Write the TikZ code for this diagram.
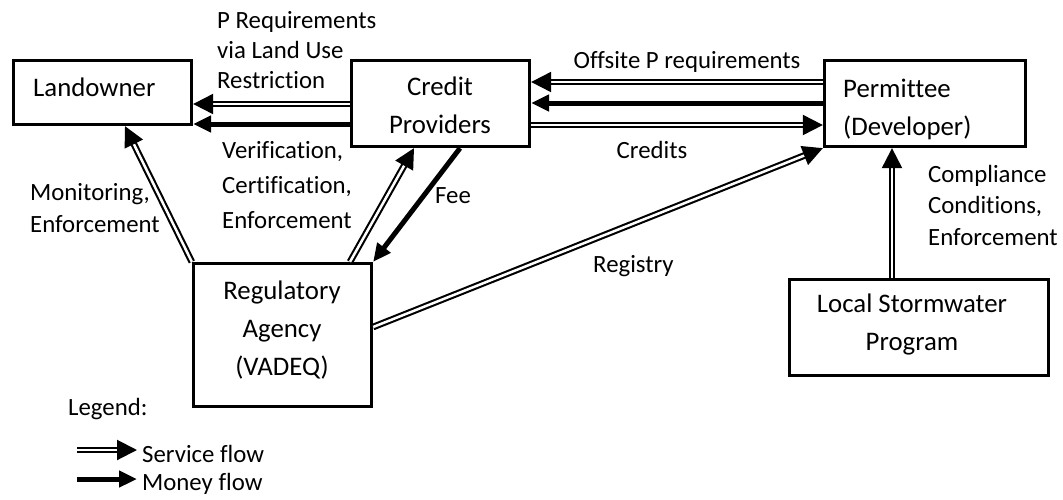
\documentclass[tikz,border=0pt]{standalone}
\usepackage{fontspec}
\setmainfont{Carlito}[Ligatures={NoCommon}]
\usetikzlibrary{arrows.meta}
\begin{document}
\begin{tikzpicture}[x=1pt,y=-1pt,
  box/.style={draw, line width=3.3pt, rectangle, inner sep=0pt},
  boxtxt/.style={font=\fontsize{26.8}{32}\selectfont, inner sep=0pt},
  lbl/.style={font=\fontsize{24.8}{30}\selectfont, inner sep=0pt},
  svc/.style={line width=2.1pt, double=white, double distance=2.5pt,
    -{Triangle[length=20pt,width=20pt]}},
  money/.style={line width=5pt, -{Triangle[length=18pt,width=16pt]}}]
\useasboundingbox (0,0) rectangle (1063,499);

% boxes
\node[box, minimum width=178pt, minimum height=64pt]  (lo) at (102.5,92.5) {};
\node[box, minimum width=178pt, minimum height=86pt]  (cp) at (440.5,103.5) {};
\node[box, minimum width=201pt, minimum height=86pt]  (pm) at (925,103.5) {};
\node[box, minimum width=259pt, minimum height=96pt]  (ls) at (919,327.5) {};
\node[box, minimum width=178pt, minimum height=143pt] (ra) at (282.5,335) {};

% box texts
\node[boxtxt, anchor=base west] (lo-t)  at (33,96)   {Landowner};
\node[boxtxt, anchor=base]      (cp-t1) at (440,95)  {Credit};
\node[boxtxt, anchor=base]      (cp-t2) at (440,133) {Providers};
\node[boxtxt, anchor=base west] (pm-t1) at (843,97)  {Permittee};
\node[boxtxt, anchor=base west] (pm-t2) at (843,135) {(Developer)};
\node[boxtxt, anchor=base]      (ls-t1) at (912,312) {Local Stormwater};
\node[boxtxt, anchor=base]      (ls-t2) at (912,350) {Program};
\node[boxtxt, anchor=base]      (ra-t1) at (282,299) {Regulatory};
\node[boxtxt, anchor=base]      (ra-t2) at (282,337) {Agency};
\node[boxtxt, anchor=base]      (ra-t3) at (282,375) {(VADEQ)};

% horizontal flows
\draw[svc]   (cp.west |- 0,104) -- (lo.east |- 0,104);
\draw[money] (cp.west |- 0,124) -- (lo.east |- 0,124);
\draw[svc]   (pm.west |- 0,82)  -- (cp.east |- 0,82);
\draw[money] (pm.west |- 0,103) -- (cp.east |- 0,103);
\draw[svc]   (cp.east |- 0,125) -- (pm.west |- 0,125);

% slanted and vertical flows
\draw[svc]   (ra.north west) -- (lo.south -| 125,0);
\draw[svc]   (ra.north -| 350,0) -- (cp.south -| 414,0);
\draw[money] (cp.south -| 460,0) -- (ra.north east);
\draw[svc]   (ra.east |- 0,327) -- (pm.south west);
\draw[svc]   (ls.north -| 892,0) -- (pm.south -| 892,0);

% flow labels
\node[lbl, anchor=base west] (l-p1) at (217,28)  {P Requirements};
\node[lbl, anchor=base west] (l-p2) at (217,58)  {via Land Use};
\node[lbl, anchor=base west] (l-p3) at (217,88)  {Restriction};
\node[lbl, anchor=base]      (l-off) at (687,68) {Offsite P requirements};
\node[lbl, anchor=base]      (l-cr) at (652,158) {Credits};
\node[lbl, anchor=base west] (l-v1) at (222,158) {Verification,};
\node[lbl, anchor=base west] (l-v2) at (222,193) {Certification,};
\node[lbl, anchor=base west] (l-v3) at (222,228) {Enforcement};
\node[lbl, anchor=base west] (l-m1) at (30,200)  {Monitoring,};
\node[lbl, anchor=base west] (l-m2) at (30,232)  {Enforcement};
\node[lbl, anchor=base west] (l-fee) at (435,203) {Fee};
\node[lbl, anchor=base west] (l-reg) at (593,272) {Registry};
\node[lbl, anchor=base west] (l-c1) at (928,182) {Compliance};
\node[lbl, anchor=base west] (l-c2) at (928,213) {Conditions,};
\node[lbl, anchor=base west] (l-c3) at (928,245) {Enforcement};

% legend
\node[lbl, anchor=base west] (lg) at (68,415) {Legend:};
\coordinate (lg-s0) at (77,450);
\coordinate (lg-s1) at (137,450);
\coordinate (lg-m0) at (77,479);
\coordinate (lg-m1) at (137,479);
\draw[svc]   (lg-s0) -- (lg-s1);
\draw[money] (lg-m0) -- (lg-m1);
\node[lbl, anchor=base west] (lg-st) at (142,462) {Service flow};
\node[lbl, anchor=base west] (lg-mt) at (142,490) {Money flow};
\end{tikzpicture}
\end{document}
